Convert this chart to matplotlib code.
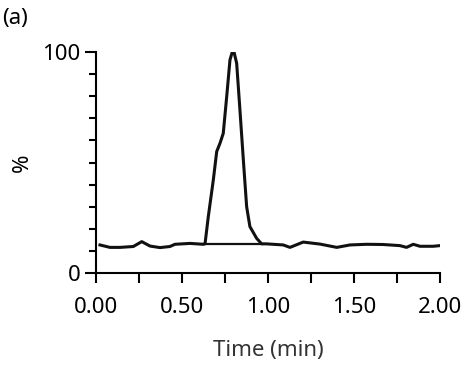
import matplotlib.pyplot as plt
from matplotlib.ticker import MultipleLocator, FixedLocator

# chromatogram trace (time in min, relative intensity %)
time = [0.023, 0.081, 0.14, 0.217, 0.266, 0.314, 0.372, 0.43, 0.459, 0.547,
        0.624, 0.634, 0.653, 0.682, 0.702, 0.721, 0.740, 0.760, 0.779, 0.798,
        0.818, 0.837, 0.857, 0.876, 0.895, 0.934, 0.963, 0.99, 1.089, 1.128,
        1.205, 1.302, 1.40, 1.477, 1.574, 1.67, 1.767, 1.806, 1.845, 1.884,
        1.961, 2.0]
intensity = [12.7, 11.6, 11.6, 12.0, 14.2, 12.2, 11.5, 12.0, 13.0, 13.4,
             13.0, 13.2, 25.5, 42.0, 55.0, 58.7, 63.2, 79.8, 96.4, 101.5,
             94.9, 73.8, 51.0, 30.0, 21.0, 15.7, 13.2, 13.2, 12.7, 11.6,
             14.0, 13.1, 11.6, 12.7, 13.0, 12.9, 12.4, 11.6, 13.0, 12.1,
             12.1, 12.4]

# integration baseline under the peak
base_t = [0.634, 0.963]
base_y = [13.2, 13.2]

plt.rcParams['font.family'] = ['Noto Sans', 'DejaVu Sans']

fig = plt.figure(figsize=(4.69, 3.65), dpi=100)
ax = fig.add_axes([0.2047, 0.252, 0.7333, 0.6055])

ax.plot(time, intensity, color='#111111', lw=2.2, solid_joinstyle='round')
ax.plot(base_t, base_y, color='#111111', lw=1.6)

ax.set_xlim(0, 2.0)
ax.set_ylim(0, 100)
ax.spines['top'].set_visible(False)
ax.spines['right'].set_visible(False)
for s in ['left', 'bottom']:
    ax.spines[s].set_linewidth(1.5)

ax.xaxis.set_major_locator(FixedLocator([0, 0.5, 1.0, 1.5, 2.0]))
ax.xaxis.set_minor_locator(MultipleLocator(0.25))
ax.set_xticklabels(['0.00', '0.50', '1.00', '1.50', '2.00'])
ax.yaxis.set_major_locator(FixedLocator([0, 100]))
ax.yaxis.set_minor_locator(MultipleLocator(10))

ax.tick_params(axis='x', which='both', direction='out', length=7, width=1.5,
               labelsize=16, pad=10)
ax.tick_params(axis='y', which='major', direction='out', length=8, width=1.5,
               labelsize=16, pad=3)
ax.tick_params(axis='y', which='minor', direction='out', length=5, width=1.5)

ax.set_xlabel('Time (min)', fontsize=16, color='#333333', labelpad=16)
ax.set_ylabel('%', fontsize=16)
ax.yaxis.set_label_coords(-0.185, 0.5)
fig.text(0.005, 0.935, '(a)', fontsize=16)

fig.savefig('out.png', dpi=100)
